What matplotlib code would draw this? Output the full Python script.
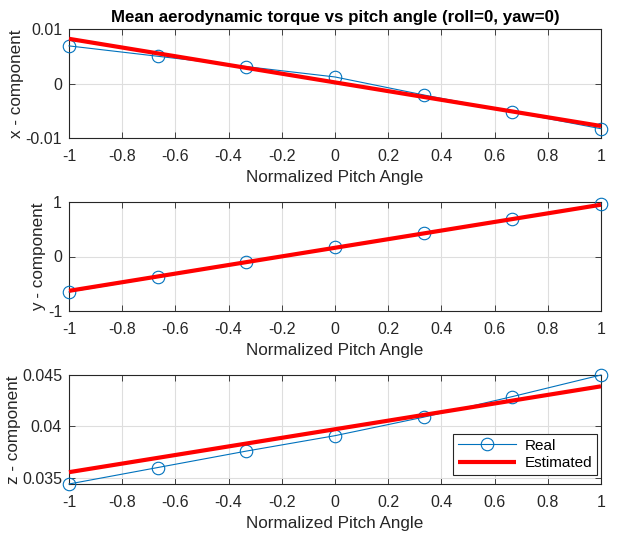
import numpy as np
import matplotlib
matplotlib.use("Agg")
import matplotlib.pyplot as plt

plt.rcParams['font.family'] = ['Liberation Sans', 'DejaVu Sans']

pitch = [-1.0, -2/3, -1/3, 0.0, 1/3, 2/3, 1.0]

x_real = [0.0069, 0.0050, 0.0031, 0.0012, -0.0021, -0.0052, -0.0083]
y_real = [-0.65, -0.38, -0.11, 0.17, 0.43, 0.69, 0.96]
z_real = [0.0344, 0.0360, 0.0376, 0.0391, 0.0409, 0.0429, 0.0450]

# Linear estimates evaluated at the ends of the pitch range
x_est = [0.0082, -0.0078]
y_est = [-0.63, 0.95]
z_est = [0.03555, 0.0439]
est_pitch = [-1.0, 1.0]

ylabels = ['x - component', 'y - component', 'z - component']
ylims = [(-0.01, 0.01), (-1, 1), (0.0344, 0.045)]
yticks = [[-0.01, 0, 0.01], [-1, 0, 1], [0.035, 0.04, 0.045]]
yticklabels = [['-0.01', '0', '0.01'], ['-1', '0', '1'], ['0.035', '0.04', '0.045']]
xticks = [-1, -0.8, -0.6, -0.4, -0.2, 0, 0.2, 0.4, 0.6, 0.8, 1]
xticklabels = ['-1', '-0.8', '-0.6', '-0.4', '-0.2', '0', '0.2', '0.4', '0.6', '0.8', '1']

W, H = 617, 536
fig = plt.figure(figsize=(W / 100, H / 100), dpi=100)
fig.patch.set_facecolor('white')

left, right = 69 / W, 601 / W
tops = [29, 202, 375]
height_px = 109

blue = (0, 0.447, 0.741)
txt = (0.15, 0.15, 0.15)

series = [(x_real, x_est), (y_real, y_est), (z_real, z_est)]
for i, (real, est) in enumerate(series):
    bottom = 1 - (tops[i] + height_px) / H
    ax = fig.add_axes([left, bottom, right - left, height_px / H])
    ax.plot(pitch, real, '-o', color=blue, lw=0.8, ms=9, mfc='none',
            mec=blue, mew=0.8, label='Real', zorder=3, clip_on=False)
    ax.plot(est_pitch, est, '-', color='red', lw=3, label='Estimated',
            zorder=4, clip_on=False, solid_capstyle='butt')
    ax.set_xlim(-1, 1)
    ax.set_ylim(*ylims[i])
    ax.set_xticks(xticks)
    ax.set_xticklabels(xticklabels)
    ax.set_yticks(yticks[i])
    ax.set_yticklabels(yticklabels[i])
    ax.grid(True, color=(0.87, 0.87, 0.87), lw=0.8)
    ax.set_axisbelow(True)
    ax.tick_params(direction='in', length=4, width=0.6, colors=txt,
                   labelsize=11.5, top=True, right=True)
    ax.tick_params(axis='x', pad=8)
    ax.tick_params(axis='y', pad=5)
    for s in ax.spines.values():
        s.set_color(txt)
        s.set_linewidth(0.8)
    ax.set_xlabel('Normalized Pitch Angle', fontsize=12.3, color=txt, labelpad=4)
    ax.set_ylabel(ylabels[i], fontsize=12.3, color=txt, labelpad=1)
    if i == 0:
        ax.set_title('Mean aerodynamic torque vs pitch angle (roll=0, yaw=0)',
                     fontsize=12.2, fontweight='bold', color='black', pad=5)
    if i == 2:
        leg = ax.legend(loc='lower right', fontsize=11, frameon=True,
                        fancybox=False, edgecolor=txt, framealpha=1,
                        handlelength=3.8, borderpad=0.3, labelspacing=0.25,
                        handletextpad=0.6, borderaxespad=0,
                        bbox_to_anchor=(0.9925, 0.083))
        leg.get_frame().set_linewidth(0.8)

fig.savefig('out.png', dpi=100, facecolor='white')
